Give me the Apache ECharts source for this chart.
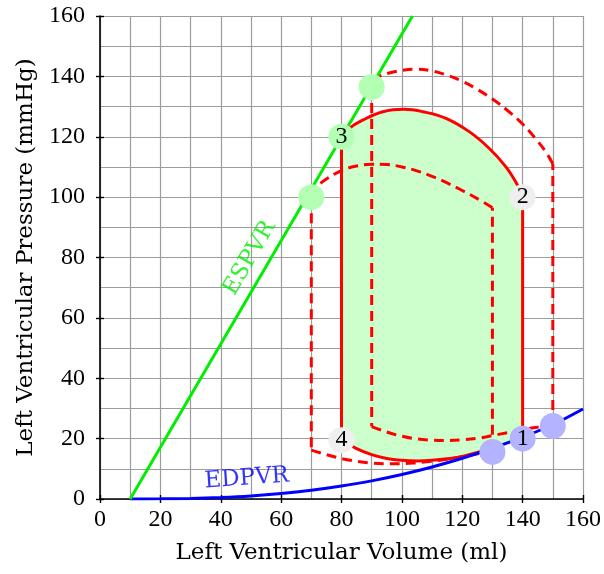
<!DOCTYPE html>
<html><head><meta charset="utf-8">
<script src="https://cdn.jsdelivr.net/npm/echarts@6/dist/echarts.min.js"></script>
<style>html,body{margin:0;padding:0;background:#fff}#c{width:604px;height:574px}</style>
</head><body><div id="c"></div>
<script>
// ---- data (volume ml, pressure mmHg) ----
const edpvrVol = [10,20,30,40,50,60,70,80,90,100,110,120,130,140,150,160];
const edpvrP   = [0,0.05,0.2,0.5,1.0,1.8,2.9,4.3,6.0,8.1,10.6,13.5,16.8,20.5,24.6,29.8];
const espvrVol = [10,103.5];
const espvrP   = [0,160];

// baseline loop (solid, filled)
const baseBottom = [[80,19.5],[85,16.7],[90,14.7],[95,13.4],[100,12.8],[105,12.6],[110,12.8],[115,13.3],[120,14.1],[125,15.4],[130,16.8]];
const baseRight  = [[140,20],[140,100]];
const baseTop    = [[140,100],[138.3,104],[134.4,110.1],[128.9,116.2],[122.3,121.7],[114.6,126.1],[106.9,128.3],[100.8,129.1],[93.7,128.3],[87,125.5],[82.6,122.8],[80,119.5]];
const baseLeft   = [[80,119.5],[80,19.5]];

// lower preload loop (dashed)
const lowLeft   = [[70,100],[70,16.2]];
const lowBottom = [[70,16.2],[75,14.7],[80,13.4],[85,12.5],[90,11.9],[95,11.7],[100,11.7],[105,12.0],[110,12.5],[115,13.2],[120,14.0],[125,15.0],[130,16.0]];
const lowRight  = [[130,16],[130,96.5]];
const lowTop    = [[130,96.5],[125,99.5],[120,102.2],[115,104.7],[110,106.9],[105,108.7],[100,110.0],[95,110.8],[90,110.9],[85,110.3],[80,108.8],[75,106.0],[72,103.5],[70,100]];

// higher preload loop (dashed)
const highLeft   = [[90,136.5],[90,24]];
const highBottom = [[90,24],[95,22.2],[100,20.8],[105,19.9],[110,19.5],[115,19.4],[120,19.6],[125,20.1],[130,21],[135,22],[140,23],[145,23.8],[150,24.2]];
const highRight  = [[150,24.2],[150,111]];
const highTop    = [[150,111],[148,114.5],[145,118.5],[140,124.2],[135,128.7],[130,132.5],[125,135.7],[120,138.4],[115,140.4],[110,141.8],[105,142.4],[100,142.0],[95,140.9],[92,139.6],[90,136.5]];

// marked points
const ptVol  = [70,90,80,140,80,140,130,150];
const ptP    = [100,136.5,120,100,19.5,20,15.6,24.2];
const ptTag  = ['','','3','2','4','1','',''];
const ptKind = ['es','es','es','mid','mid','ed','ed','ed'];

// curve names
const curveNames = ['ESPVR','EDPVR'];
const curveNameVol = [49.6,48.6];
const curveNameP   = [79.8,6.8];

const xTitle = 'Left Ventricular Volume (ml)';
const yTitle = 'Left Ventricular Pressure (mmHg)';

// ---- build ----
const RED='#ff0000', GREEN='#00ee00', BLUE='#0000ff', GRID='#9c9c9c';
const kindColor = {es:'#b3ffb3', mid:'#efefef', ed:'#b3b3ff'};
const dash = [10,6];
const NUMFONT = "'Liberation Serif','Times New Roman',Tinos,serif";
const TXTFONT = "'DejaVu Serif',serif";

function seg(data, dashed, smooth){
  return {type:'line', data:data, smooth:smooth?0.4:false, symbol:'none', silent:true, z:3,
    lineStyle:{color:RED, width:3, type:dashed?dash:'solid'}};
}
const edpvr = edpvrVol.map((v,i)=>[v,edpvrP[i]]);
const espvr = espvrVol.map((v,i)=>[v,espvrP[i]]);
const fillPts = [].concat(baseBottom, edpvr.filter(p=>p[0]>130 && p[0]<=140), baseRight, baseTop, baseLeft);

const series = [
  {type:'custom', silent:true, z:1, data:[[0,0]],
   renderItem:function(params, api){
     return {type:'polygon', shape:{points:fillPts.map(p=>api.coord(p))}, style:{fill:'#ccffcc'}};
   }},
  seg(baseBottom,false,true), seg(baseRight,false,false), seg(baseTop,false,true), seg(baseLeft,false,false),
  seg(lowLeft,true,false), seg(lowBottom,true,true), seg(lowRight,true,false), seg(lowTop,true,true),
  seg(highLeft,true,false), seg(highBottom,true,true), seg(highRight,true,false), seg(highTop,true,true),
  {type:'line', data:edpvr, smooth:0.3, symbol:'none', silent:true, z:4, lineStyle:{color:BLUE,width:3}},
  {type:'line', data:espvr, symbol:'none', silent:true, z:4, lineStyle:{color:GREEN,width:3}},
  {type:'scatter', z:6, symbolSize:26, silent:true,
   data: ptVol.map((v,i)=>({value:[v,ptP[i]], itemStyle:{color:kindColor[ptKind[i]], opacity:1},
     label:{show:ptTag[i]!=='', formatter:ptTag[i], position:'inside', color:'#000',
       fontFamily:NUMFONT, fontSize:24}}))},
  {type:'scatter', z:7, symbolSize:0, silent:true,
   data: curveNames.map((n,i)=>({value:[curveNameVol[i],curveNameP[i]],
     label:{show:true, formatter:n, position:'inside', rotate: i===0?59.6:4,
       color: i===0?GREEN:BLUE, fontFamily:TXTFONT, fontSize:23}}))}
];

function axisPair(isX){
  const base = {type:'value', min:0, max:160, interval:20};
  const main = Object.assign({}, base, {
    position: isX?'bottom':'left',
    name: isX?xTitle:yTitle, nameLocation:'middle', nameGap: isX?43:62,
    nameTextStyle:{fontFamily:TXTFONT, fontSize:23, color:'#000'},
    axisLine:{show:true, onZero:false, lineStyle:{color:'#000', width:1.6}},
    axisTick:{show:true, inside:false, length:4, lineStyle:{color:'#000', width:1.4}},
    axisLabel:{show:true, margin: isX?9:15, color:'#000', fontFamily:NUMFONT, fontSize:24},
    splitLine:{show:true, lineStyle:{color:GRID, width:1.2}},
    minorTick:{show:false, splitNumber:2},
    minorSplitLine:{show:true, lineStyle:{color:GRID, width:1.2}}
  });
  const inner = Object.assign({}, base, {
    position: isX?'bottom':'left', offset:0,
    axisLine:{show:false, onZero:false},
    axisTick:{show:true, inside:true, length:4, lineStyle:{color:'#000', width:1.4}},
    axisLabel:{show:false}, splitLine:{show:false}
  });
  return [main, inner];
}

const chart = echarts.init(document.getElementById('c'), null, {renderer:'canvas'});
chart.setOption({
  animation:false,
  backgroundColor:'#fff',
  grid:{left:100, right:20, top:16, bottom:75, containLabel:false},
  xAxis: axisPair(true),
  yAxis: axisPair(false),
  series: series
});
</script>
</body></html>
